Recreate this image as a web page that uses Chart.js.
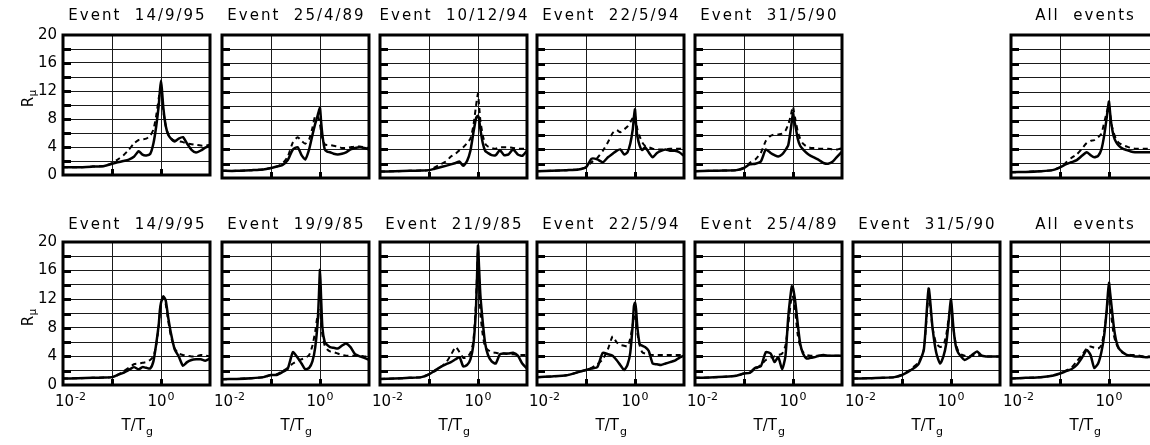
<!DOCTYPE html>
<html>
<head>
<meta charset="utf-8">
<title>R_mu spectra per event</title>
<script src="https://cdn.jsdelivr.net/npm/chart.js"></script>
<style>
  html, body { margin: 0; padding: 0; background: #fff; overflow: hidden; }
  #wrap { position: relative; width: 1150px; height: 445px; overflow: hidden; }
  #wrap canvas { position: absolute; }
</style>
</head>
<body>
<div id="wrap"></div>
<script>
// T/Tg values shared by every curve
const periods = [0.01, 0.02, 0.04, 0.07, 0.1, 0.13, 0.17, 0.22, 0.28, 0.35,
  0.42, 0.5, 0.6, 0.7, 0.8, 0.9, 0.95, 1.0, 1.05, 1.12,
  1.25, 1.4, 1.6, 1.9, 2.3, 2.8, 3.4, 4.2, 5.2, 6.5,
  8, 10]

const yTicks = [0, 4, 8, 12, 16, 20]
const xTickValues = [0.01, 1]
const xTickExps = ['-2', '0']

const topTitles = ['Event  14/9/95', 'Event  25/4/89', 'Event  10/12/94', 'Event  22/5/94', 'Event  31/5/90', 'All  events']
const bottomTitles = ['Event  14/9/95', 'Event  19/9/85', 'Event  21/9/85', 'Event  22/5/94', 'Event  25/4/89', 'Event  31/5/90', 'All  events']

// top row
const top1Solid = [1.1, 1.1, 1.2, 1.3, 1.6, 1.8, 2.0, 2.2, 2.6, 3.4,
  2.9, 2.8, 3.0, 4.5, 7.0, 10.0, 12.0, 13.5, 12.0, 9.5,
  7.0, 5.8, 5.2, 4.8, 5.2, 5.4, 4.5, 3.6, 3.2, 3.5,
  3.9, 4.2]
const top1Dashed = [1.1, 1.1, 1.2, 1.3, 1.7, 2.2, 2.8, 3.6, 4.5, 5.0,
  5.1, 5.2, 5.6, 6.5, 8.5, 11.0, 12.0, 12.3, 11.0, 9.0,
  7.0, 5.8, 5.2, 4.9, 4.8, 4.7, 4.5, 4.4, 4.3, 4.2,
  4.2, 4.3]
const top2Solid = [1.0, 1.0, 1.1, 1.2, 1.4, 1.6, 1.8, 2.5, 4.0, 4.3,
  3.2, 2.6, 4.0, 6.0, 7.6, 8.8, 9.4, 9.8, 8.0, 6.0,
  4.0, 3.7, 3.6, 3.4, 3.3, 3.4, 3.6, 4.0, 4.2, 4.3,
  4.2, 4.0]
const top2Dashed = [1.0, 1.0, 1.1, 1.2, 1.4, 1.6, 2.0, 3.0, 5.0, 5.7,
  5.2, 4.8, 5.4, 7.0, 8.7, 8.6, 8.2, 7.5, 6.5, 5.5,
  4.7, 4.6, 4.6, 4.5, 4.4, 4.2, 4.2, 4.3, 4.4, 4.4,
  4.3, 4.2]
const top3Solid = [0.9, 0.95, 1.0, 1.05, 1.1, 1.3, 1.5, 1.7, 1.9, 2.1,
  2.3, 1.7, 2.4, 3.8, 6.2, 8.2, 8.6, 8.7, 8.3, 6.8,
  4.9, 3.8, 3.5, 3.2, 3.2, 3.9, 3.2, 3.3, 4.0, 3.3,
  3.1, 3.8]
const top3Dashed = [0.9, 0.95, 1.0, 1.05, 1.1, 1.5, 1.9, 2.3, 3.0, 3.4,
  3.9, 4.3, 4.9, 5.5, 7.2, 9.8, 11.0, 11.8, 10.2, 8.0,
  6.0, 4.8, 4.4, 4.2, 4.1, 4.3, 4.3, 4.3, 4.2, 4.1,
  4.1, 4.1]
const top4Solid = [0.95, 1.0, 1.1, 1.2, 1.5, 2.7, 2.6, 2.2, 2.9, 3.4,
  3.8, 4.0, 3.3, 3.6, 4.8, 6.8, 8.5, 9.6, 7.5, 5.8,
  4.5, 3.9, 4.3, 3.6, 2.9, 3.5, 3.8, 4.0, 3.8, 3.8,
  3.6, 3.1]
const top4Dashed = [0.95, 1.0, 1.1, 1.2, 1.5, 2.2, 2.8, 3.8, 5.0, 6.3,
  6.7, 6.4, 6.8, 7.2, 7.8, 8.4, 8.6, 8.7, 8.0, 6.8,
  5.8, 5.0, 4.5, 4.3, 4.1, 4.0, 4.0, 4.0, 4.1, 4.1,
  4.1, 4.1]
const top5Solid = [0.95, 1.0, 1.05, 1.1, 1.4, 1.9, 2.0, 2.3, 4.0, 3.5,
  3.2, 3.0, 3.3, 3.9, 4.6, 6.8, 8.0, 9.1, 8.2, 7.3,
  5.5, 4.5, 4.0, 3.5, 3.1, 2.8, 2.5, 2.1, 2.0, 2.3,
  3.0, 3.7]
const top5Dashed = [0.95, 1.0, 1.05, 1.1, 1.4, 2.1, 2.6, 3.5, 5.2, 5.9,
  6.1, 6.1, 6.2, 6.6, 7.5, 8.7, 9.5, 10.0, 9.2, 8.2,
  6.5, 5.5, 4.8, 4.4, 4.2, 4.2, 4.1, 4.1, 4.1, 4.0,
  4.0, 4.2]
const top6Solid = [0.8, 0.85, 0.95, 1.1, 1.5, 1.9, 2.2, 2.5, 3.1, 3.6,
  3.2, 2.9, 3.1, 4.0, 6.0, 8.5, 9.8, 10.7, 9.2, 7.5,
  5.8, 5.0, 4.5, 4.1, 3.9, 3.7, 3.6, 3.6, 3.6, 3.6,
  3.6, 3.6]
const top6Dashed = [0.8, 0.85, 0.95, 1.1, 1.5, 2.1, 2.8, 3.3, 4.1, 4.9,
  5.2, 5.3, 5.7, 6.2, 7.8, 9.2, 9.8, 10.2, 9.0, 7.5,
  6.3, 5.4, 4.9, 4.6, 4.4, 4.2, 4.1, 4.1, 4.1, 4.1,
  4.1, 4.1]

// bottom row
const bot1Solid = [0.9, 0.95, 1.0, 1.05, 1.1, 1.4, 1.7, 2.1, 2.5, 2.2,
  2.5, 2.4, 2.3, 3.3, 5.8, 8.5, 10.5, 11.5, 12.0, 12.4,
  11.8, 9.5, 7.2, 5.0, 4.0, 2.7, 3.2, 3.5, 3.6, 3.6,
  3.4, 3.7]
const bot1Dashed = [0.9, 0.95, 1.0, 1.05, 1.1, 1.4, 1.9, 2.4, 2.9, 3.0,
  3.1, 3.2, 3.5, 4.0, 5.6, 8.2, 10.0, 11.2, 11.8, 12.2,
  11.3, 9.0, 6.8, 5.1, 4.4, 4.2, 4.1, 4.0, 4.0, 4.2,
  4.1, 4.0]
const bot2Solid = [0.8, 0.85, 0.95, 1.1, 1.4, 1.4, 1.8, 2.3, 4.6, 3.8,
  3.0, 2.2, 2.4, 3.3, 5.3, 9.0, 12.5, 16.1, 12.4, 8.0,
  6.0, 5.6, 5.3, 5.2, 5.1, 5.5, 5.8, 5.3, 4.3, 4.0,
  3.8, 3.5]
const bot2Dashed = [0.8, 0.85, 0.95, 1.1, 1.4, 1.5, 1.9, 2.4, 3.0, 3.4,
  3.6, 3.8, 4.2, 5.5, 7.5, 10.0, 10.5, 10.4, 9.0, 7.0,
  5.5, 5.0, 4.7, 4.6, 4.4, 4.2, 4.1, 4.1, 4.1, 4.1,
  4.0, 4.0]
const bot3Solid = [0.85, 0.9, 1.0, 1.1, 1.5, 2.0, 2.5, 2.9, 3.2, 3.6,
  3.9, 2.6, 2.8, 3.6, 5.5, 10.0, 14.5, 19.5, 16.5, 12.5,
  8.8, 5.8, 4.2, 3.3, 3.0, 4.3, 4.4, 4.4, 4.5, 4.1,
  3.0, 2.3]
const bot3Dashed = [0.85, 0.9, 1.0, 1.1, 1.5, 1.9, 2.5, 3.1, 4.2, 5.3,
  4.6, 3.8, 3.9, 4.5, 6.0, 11.0, 15.0, 19.0, 15.0, 10.0,
  7.0, 5.3, 4.9, 4.6, 4.5, 4.4, 4.4, 4.3, 4.3, 4.2,
  4.2, 4.2]
const bot4Solid = [1.1, 1.2, 1.35, 1.8, 2.1, 2.3, 2.5, 4.5, 4.3, 4.1,
  3.5, 2.8, 2.1, 2.8, 4.5, 8.5, 11.0, 11.5, 10.6, 8.0,
  5.7, 5.5, 5.3, 4.8, 3.0, 2.9, 2.8, 3.0, 3.2, 3.4,
  3.8, 4.1]
const bot4Dashed = [1.1, 1.2, 1.35, 1.8, 2.1, 2.4, 2.9, 3.6, 5.0, 6.8,
  6.0, 5.6, 5.5, 5.4, 6.5, 8.5, 9.6, 9.4, 8.5, 7.2,
  5.5, 4.6, 4.4, 4.3, 4.2, 4.2, 4.2, 4.2, 4.2, 4.2,
  4.2, 4.2]
const bot5Solid = [1.0, 1.05, 1.15, 1.3, 1.6, 1.7, 2.4, 2.6, 4.6, 4.4,
  3.2, 3.9, 2.2, 4.0, 9.5, 12.8, 13.8, 13.6, 12.8, 11.5,
  8.5, 5.8, 4.4, 3.7, 3.8, 3.9, 4.1, 4.2, 4.1, 4.1,
  4.1, 4.1]
const bot5Dashed = [1.0, 1.05, 1.15, 1.3, 1.6, 1.7, 2.2, 2.8, 3.5, 3.8,
  4.0, 4.2, 4.4, 5.5, 8.5, 11.5, 12.5, 12.3, 11.5, 10.0,
  7.0, 5.5, 4.6, 4.2, 4.1, 4.1, 4.1, 4.1, 4.1, 4.1,
  4.1, 4.1]
const bot6Solid = [0.9, 0.95, 1.0, 1.1, 1.4, 1.8, 2.3, 3.0, 5.0, 13.5,
  8.0, 4.5, 3.0, 4.0, 5.8, 9.0, 10.8, 12.0, 10.5, 8.0,
  5.5, 4.5, 4.0, 3.5, 3.8, 4.3, 4.7, 4.1, 4.0, 4.0,
  4.0, 4.0]
const bot6Dashed = [0.9, 0.95, 1.0, 1.1, 1.4, 1.9, 2.5, 3.2, 5.0, 12.5,
  8.0, 5.8, 5.3, 5.6, 7.0, 9.5, 10.6, 11.2, 10.0, 8.0,
  5.8, 4.8, 4.3, 4.1, 4.0, 4.1, 4.2, 4.1, 4.0, 4.0,
  4.0, 4.0]
const bot7Solid = [0.9, 1.0, 1.1, 1.3, 1.6, 1.9, 2.2, 2.8, 3.8, 4.9,
  4.2, 2.4, 3.0, 4.6, 7.0, 10.6, 12.8, 14.3, 13.0, 11.2,
  8.2, 6.2, 5.1, 4.6, 4.2, 4.1, 4.0, 4.0, 3.9, 3.9,
  3.9, 3.9]
const bot7Dashed = [0.9, 1.0, 1.1, 1.3, 1.6, 2.0, 2.4, 3.3, 4.2, 5.1,
  5.4, 5.2, 5.1, 5.6, 7.5, 10.2, 12.0, 13.4, 12.0, 9.5,
  7.0, 5.8, 5.0, 4.5, 4.3, 4.2, 4.2, 4.1, 4.0, 4.0,
  4.0, 4.0]

// layout (px)
const colLefts = [63, 222, 380, 537, 695, 853, 1011]
const plotW = 147
const plotH = 143
const rowTops = [35, 242]
const padLeft = 60
const padTop = 35
const padRight = 12
const FONT = '"DejaVu Sans", Verdana, sans-serif'

function toPoints(arr) {
  return periods.map((p, i) => ({ x: p, y: arr[i] }))
}

const panelDecor = {
  id: 'panelDecor',
  afterDraw(chart, args, opts) {
    const { ctx, chartArea: a } = chart
    const x = chart.scales.x
    const y = chart.scales.y
    ctx.save()
    ctx.strokeStyle = '#000'
    ctx.fillStyle = '#000'

    // thick inner ticks
    ctx.lineWidth = 3
    ctx.beginPath()
    for (let v = 2; v < 20; v += 2) {
      const py = Math.round(y.getPixelForValue(v)) + 0.5
      ctx.moveTo(a.left, py)
      ctx.lineTo(a.left + 8, py)
    }
    ;[0.1, 1].forEach((v) => {
      const px = Math.round(x.getPixelForValue(v)) + 0.5
      ctx.moveTo(px, a.bottom)
      ctx.lineTo(px, a.bottom - 6)
    })
    ctx.stroke()

    // frame
    ctx.lineWidth = 3
    ctx.strokeRect(a.left, a.top, a.right - a.left, a.bottom - a.top)

    // title
    ctx.font = '15px ' + FONT
    ctx.textAlign = 'center'
    ctx.textBaseline = 'middle'
    ctx.letterSpacing = '2px'
    ctx.fillText(opts.title, (a.left + a.right) / 2 + 1, a.top - (opts.row === 0 ? 19 : 17))
    ctx.letterSpacing = '0px'

    if (opts.row === 1) {
      // x tick labels 10^n
      ctx.textAlign = 'left'
      xTickValues.forEach((v, i) => {
        const px = x.getPixelForValue(v)
        ctx.font = '15px ' + FONT
        const bw = ctx.measureText('10').width
        ctx.font = '11px ' + FONT
        const ew = ctx.measureText(xTickExps[i]).width
        const start = i === 0 ? px - 8 : px - (bw + ew + 1) / 2
        ctx.font = '15px ' + FONT
        ctx.fillText('10', start, a.bottom + 17)
        ctx.font = '11px ' + FONT
        ctx.fillText(xTickExps[i], start + bw + 1, a.bottom + 12)
      })
      // x title T/Tg
      const cx = (a.left + a.right) / 2
      ctx.font = '15px ' + FONT
      const tw = ctx.measureText('T/T').width
      ctx.fillText('T/T', cx - 15, a.bottom + 41)
      ctx.font = '11px ' + FONT
      ctx.fillText('g', cx - 15 + tw + 1, a.bottom + 47)
    }

    if (opts.col === 0) {
      // y title R_mu
      const cy = opts.row === 0 ? a.top + 67 : a.top + 79
      ctx.translate(a.left - 34, cy)
      ctx.rotate(-Math.PI / 2)
      ctx.textAlign = 'center'
      ctx.font = '15px ' + FONT
      ctx.fillText('R', 0, 0)
      ctx.font = '10px ' + FONT
      ctx.fillText('\u03bc', 9, 4)
    }
    ctx.restore()
  },
}

function makePanel(row, col, title, solid, dashed) {
  const padBottom = row === 0 ? 12 : 60
  const canvas = document.createElement('canvas')
  canvas.width = padLeft + plotW + padRight
  canvas.height = padTop + plotH + padBottom
  canvas.style.left = colLefts[col] - padLeft + 'px'
  canvas.style.top = rowTops[row] - padTop + 'px'
  document.getElementById('wrap').appendChild(canvas)

  new Chart(canvas.getContext('2d'), {
    type: 'line',
    data: {
      datasets: [
        {
          label: 'solid',
          data: toPoints(solid),
          borderColor: '#000',
          borderWidth: 2.5,
          pointRadius: 0,
          tension: 0.2,
          fill: false,
        },
        {
          label: 'dashed',
          data: toPoints(dashed),
          borderColor: '#000',
          borderWidth: 2,
          borderDash: [5, 4],
          pointRadius: 0,
          tension: 0.2,
          fill: false,
        },
      ],
    },
    options: {
      responsive: false,
      animation: false,
      devicePixelRatio: 1,
      layout: {
        padding: { left: 0, top: padTop, right: padRight, bottom: padBottom },
      },
      plugins: {
        legend: { display: false },
        tooltip: { enabled: false },
        panelDecor: { title: title, row: row, col: col },
      },
      scales: {
        x: {
          type: 'logarithmic',
          min: 0.01,
          max: 10,
          afterBuildTicks: (s) => {
            s.ticks = [0.01, 0.1, 1, 10].map((v) => ({ value: v }))
          },
          afterFit: (s) => {
            s.height = 0
          },
          ticks: { display: false },
          grid: { color: '#1a1a1a', lineWidth: 1, drawTicks: false },
          border: { display: false },
        },
        y: {
          min: 0,
          max: 20,
          afterFit: (s) => {
            s.width = padLeft
          },
          ticks: {
            display: col === 0,
            stepSize: 2,
            autoSkip: false,
            padding: 6,
            color: '#000',
            font: { family: FONT, size: 15 },
            callback: (v) => (yTicks.includes(v) ? String(v) : ''),
          },
          grid: { color: '#1a1a1a', lineWidth: 1, drawTicks: false },
          border: { display: false },
        },
      },
    },
    plugins: [panelDecor],
  })
}

const topCols = [0, 1, 2, 3, 4, 6]
const topSolid = [top1Solid, top2Solid, top3Solid, top4Solid, top5Solid, top6Solid]
const topDashed = [top1Dashed, top2Dashed, top3Dashed, top4Dashed, top5Dashed, top6Dashed]
const botSolid = [bot1Solid, bot2Solid, bot3Solid, bot4Solid, bot5Solid, bot6Solid, bot7Solid]
const botDashed = [bot1Dashed, bot2Dashed, bot3Dashed, bot4Dashed, bot5Dashed, bot6Dashed, bot7Dashed]

topCols.forEach((col, i) => {
  makePanel(0, col, topTitles[i], topSolid[i], topDashed[i])
})
bottomTitles.forEach((t, i) => {
  makePanel(1, i, t, botSolid[i], botDashed[i])
})
</script>
</body>
</html>
